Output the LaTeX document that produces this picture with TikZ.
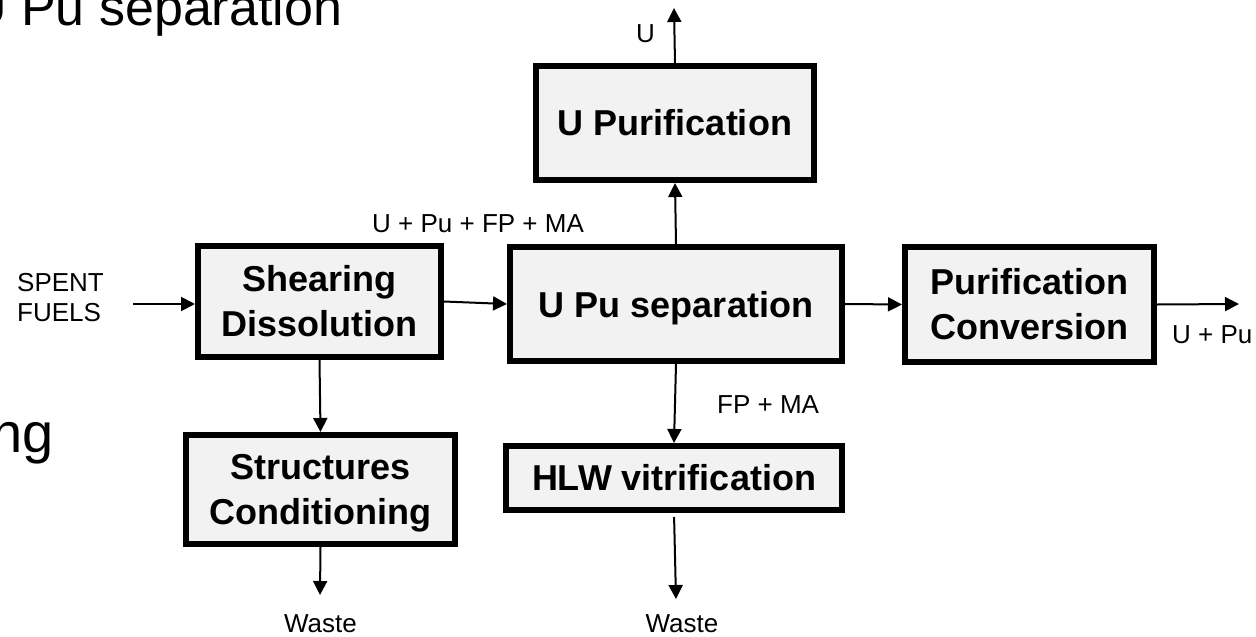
\documentclass[tikz,border=0pt]{standalone}
\usepackage{fontspec}
\setmainfont{Liberation Sans}
\usetikzlibrary{arrows.meta}
\begin{document}
\begin{tikzpicture}[x=1pt,y=-1pt,
  box/.style={draw, line width=6pt, fill=black!5, align=center, inner sep=0pt,
    font=\fontsize{36}{45}\selectfont\bfseries},
  flow/.style={line width=2pt, -{Triangle[length=14pt,width=14pt]}},
  lbl/.style={inner sep=0pt, font=\fontsize{26}{30}\selectfont},
  big/.style={inner sep=0pt, font=\fontsize{52}{60}\selectfont}]
\clip (0,0) rectangle (1256,637);
\node[big, anchor=base west] (title) at (-31,25) {U Pu separation};
\node[big, font=\fontsize{56}{60}\selectfont, anchor=base east] (ng) at (54,452) {ng};

\node[box, minimum width=243pt, minimum height=111pt] (shear) at (319.5,301.5) {Shearing\\Dissolution};
\node[box, minimum width=332pt, minimum height=114pt, text depth=0pt] (sep) at (676,304) {U Pu separation};
\node[box, minimum width=249pt, minimum height=115pt] (purif) at (1029.5,304.5) {Purification\\Conversion};
\node[box, minimum width=278pt, minimum height=114pt] (upur) at (675,123) {U Purification};
\node[box, minimum width=269pt, minimum height=109pt, text depth=0pt] (struct) at (320.5,489.5) {Structures\\Conditioning};
\node[box, minimum width=336pt, minimum height=64pt] (hlw) at (674,478) {HLW vitrification};

\coordinate (in) at (133,304);
\coordinate (out) at (1239,304);
\coordinate (utop) at (674,8);
\coordinate (w1) at (320,595);
\coordinate (w2) at (676,599);

\draw[flow] (in) -- (in -| shear.west);
\draw[flow] (shear.east) -- (sep.west);
\draw[flow] (sep.east) -- (purif.west);
\draw[flow] (purif.east) -- (out);
\draw[flow] (sep.north) -- (upur.south);
\draw[flow] (upur.north) -- (utop);
\draw[flow] (shear.south) -- (struct.north);
\draw[flow] (struct.south) -- (w1);
\draw[flow] (sep.south) -- (hlw.north);
\draw[flow, shorten <=4pt] (hlw.south) -- (w2);

\node[lbl, anchor=west, align=left] (spent) at (17,298) {SPENT\\FUELS};
\node[lbl, anchor=base west] (lmix) at (372,232) {U + Pu + FP + MA};
\node[lbl, anchor=base west] (lfp) at (717,413) {FP + MA};
\node[lbl, anchor=base west] (lu) at (636,42) {U};
\node[lbl, anchor=base west] (lupu) at (1172,343) {U + Pu};
\node[lbl, anchor=base] (waste1) at (320.5,632) {Waste};
\node[lbl, anchor=base] (waste2) at (682,632) {Waste};
\end{tikzpicture}
\end{document}
